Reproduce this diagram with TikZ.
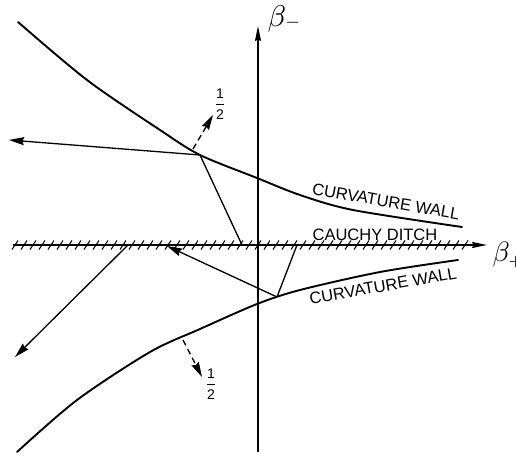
\documentclass[tikz,border=0pt]{standalone}
\usepackage{fontspec}
\setmainfont{Liberation Sans}
\usetikzlibrary{arrows.meta,calc}
\tikzset{
  wall/.style={line width=1.9pt, line cap=round},
  axisline/.style={line width=1.3pt, -{Stealth[length=15pt,width=6pt,inset=1.5pt]}},
  hatch/.style={line width=1.1pt},
  ray/.style={line width=1.3pt, -{Stealth[length=15pt,width=8pt,inset=1.5pt]}},
  halfray/.style={ray, dash pattern=on 6pt off 4pt},
  walllabel/.style={font=\fontsize{16.5}{18}\selectfont, anchor=base, inner sep=0pt},
  half/.style={font=\fontsize{14}{15}\selectfont, inner sep=0pt}
}
\begin{document}
\begin{tikzpicture}[x=1pt,y=1pt]
  \useasboundingbox (-258,-210) rectangle (258,245);
  \coordinate (ybot) at (0,-207);
  \coordinate (ytop) at (0,219);
  \coordinate (xleft) at (-245,0);
  \coordinate (xright) at (229,0);
  \draw[axisline] (ybot) -- (ytop);
  \draw[axisline] (xleft) -- (xright);
  \foreach \x in {-243,-234,...,207}
    \draw[hatch] (\x-3,-4.5) -- (\x+3,4.5);
  \node[anchor=base west, inner sep=0pt, scale=3] (bminus) at (9,218.5)
    {$\beta_{\raisebox{3pt}{$\scriptscriptstyle -$}}$};
  \node[anchor=base west, inner sep=0pt, scale=2.8] (bplus) at (234,-16)
    {$\beta_{\scriptscriptstyle +}$};
  % curvature walls
  \draw[wall] plot[smooth] coordinates {(-240,223) (-171,165) (-98,115) (-58,90) (-1,67) (42,50) (95,35) (204,18)};
  \draw[wall] plot[smooth] coordinates {(-241,-207) (-181,-155) (-108,-107) (-58,-84) (-1,-59) (42,-45) (122,-27) (200,-15)};
  \node[walllabel, rotate=-10] (uplabel) at (127,38) {CURVATURE WALL};
  \node[walllabel, rotate=10] (lowlabel) at (126,-46.5) {CURVATURE WALL};
  \node[walllabel] (ditch) at (117,5) {CAUCHY DITCH};
  % bounce points
  \coordinate (up) at (-58,90);
  \coordinate (hit1) at (-16,0);
  \coordinate (hit2) at (39,0);
  \coordinate (low) at (19,-52);
  \coordinate (hit3) at (-91,-1);
  \coordinate (hit4) at (-130,0);
  \coordinate (outleft) at (-249,105);
  \coordinate (outdown) at (-243,-112);
  \draw[ray] (up) -- (outleft);
  \draw[line width=1.3pt] (up) -- (hit1);
  \draw[line width=1.3pt] (hit2) -- (low);
  \draw[ray] (low) -- (hit3);
  \draw[ray] (hit4) -- (outdown);
  % halved rays
  \coordinate (hu) at (-65,96);
  \coordinate (hl) at (-75,-95);
  \draw[halfray] (hu) -- (-45,130);
  \draw[halfray] (hl) -- (-56,-132);
  \node[half] (halfup) at (-38,141) {$\displaystyle{\textrm{1}\above1.3pt\textrm{2}}$};
  \node[half] (halflow) at (-47,-139) {$\displaystyle{\textrm{1}\above1.3pt\textrm{2}}$};
\end{tikzpicture}
\end{document}
